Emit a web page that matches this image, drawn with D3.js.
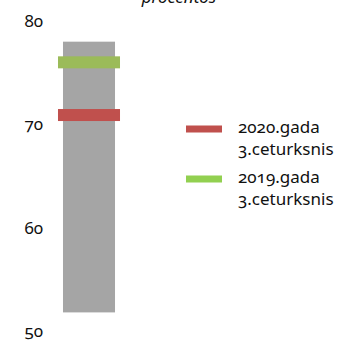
<!DOCTYPE html>
<html><head><meta charset="utf-8">
<script src="https://cdn.jsdelivr.net/npm/d3@7"></script>
<style>
body{margin:0;background:#fff;}
svg text{font-family:"Noto Sans",sans-serif;font-variant-numeric:oldstyle-nums;font-feature-settings:"onum" 1;fill:#111;}
</style></head><body>
<svg id="c" width="353" height="341"></svg>
<script>
const title = "procentos";
const rangeMin = [51.8];
const rangeMax = [78.0];
const seriesNames = ["2020.gada|3.ceturksnis", "2019.gada|3.ceturksnis"];
const seriesValues = [70.9, 76.0];
const markerColors = ["#C0504D", "#9BBB59"];
const legendColors = ["#C0504D", "#92D050"];
const yTicks = [50, 60, 70, 80];

const svg = d3.select("#c");
const y = d3.scaleLinear().domain([50, 80]).range([331, 21]);
const x = d3.scaleBand().domain([0]).range([40, 138]).paddingInner(0).paddingOuter(0.442);

svg.append("text").attr("x", 179).attr("y", 3).attr("text-anchor", "middle")
  .style("font-style", "italic").style("font-size", "17px").text(title);

const axis = d3.axisLeft(y).tickValues(yTicks).tickSize(0).tickPadding(0).tickFormat(d3.format("d"));
const ag = svg.append("g").attr("transform", "translate(43,0)").call(axis);
ag.select(".domain").remove();
ag.selectAll("text").style("font-size", "17px").attr("font-family", null).attr("fill", "#111");

svg.selectAll("rect.range").data(rangeMin).enter().append("rect")
  .attr("class", "range")
  .attr("x", (d, i) => x(i)).attr("width", x.bandwidth())
  .attr("y", (d, i) => y(rangeMax[i])).attr("height", (d, i) => y(d) - y(rangeMax[i]))
  .attr("fill", "#A5A5A5");

const ext = 5;
svg.selectAll("rect.mk").data(seriesValues).enter().append("rect")
  .attr("class", "mk")
  .attr("x", x(0) - ext).attr("width", x.bandwidth() + 2 * ext)
  .attr("y", d => y(d) - 6).attr("height", 12)
  .attr("fill", (d, i) => markerColors[i]);

const lg = svg.append("g");
seriesNames.forEach((n, i) => {
  const top = 129 + i * 50;
  lg.append("rect").attr("x", 186).attr("y", top - 3.5).attr("width", 36).attr("height", 7).attr("fill", legendColors[i]);
  const lines = n.split("|");
  lines.forEach((t, j) => {
    lg.append("text").attr("x", 238).attr("y", top + 4 + j * 22).style("font-size", "17px").text(t);
  });
});
</script></body></html>
